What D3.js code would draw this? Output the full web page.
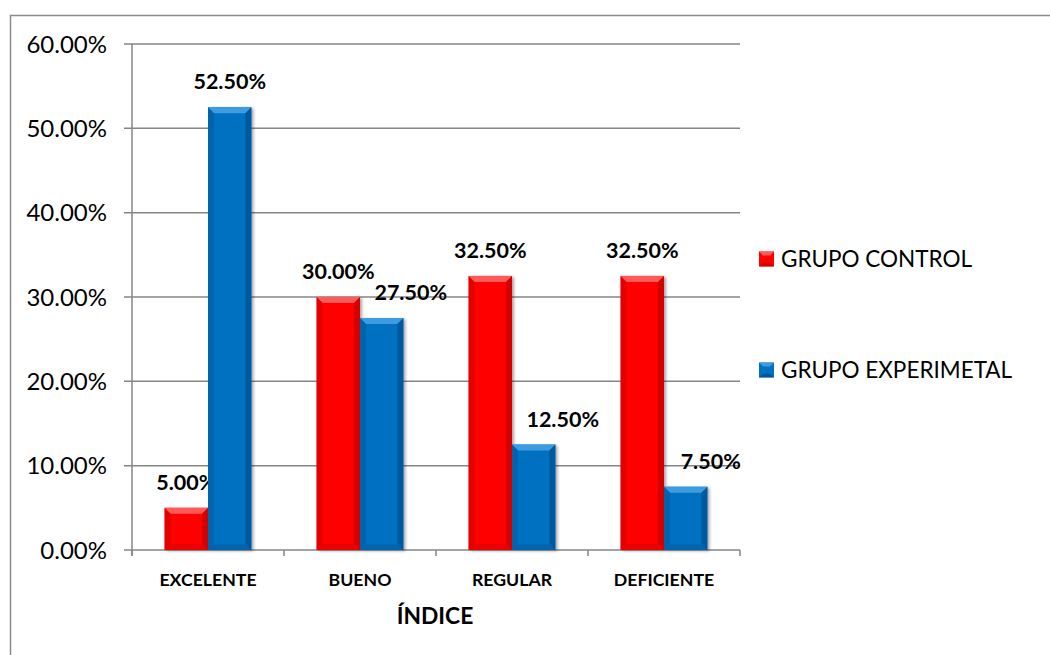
<!DOCTYPE html>
<html><head><meta charset="utf-8">
<script src="https://cdn.jsdelivr.net/npm/d3@7"></script>
<style>body{margin:0;background:#fff}svg{display:block}</style>
</head><body>
<script>
const categories = ["EXCELENTE","BUENO","REGULAR","DEFICIENTE"];
const series = ["GRUPO CONTROL","GRUPO EXPERIMETAL"];
const control = [5.0, 30.0, 32.5, 32.5];
const experimental = [52.5, 27.5, 12.5, 7.5];
const yTicks = [0,10,20,30,40,50,60];
const xTitle = "ÍNDICE";

const W=1050,H=655;
const svg=d3.select("body").append("svg").attr("width",W).attr("height",H);
const font="Lato, 'Open Sans', sans-serif";
const colors=["#FF0000","#0070C0"];
const light=["#FF5a5a","#3D9BE0"];
const dark=["#D40000","#005A9E"];
const darker=["#B80000","#004A86"];

const defs=svg.append("defs");
const f=defs.append("filter").attr("id","sh").attr("x","-20%").attr("y","-20%").attr("width","150%").attr("height","150%");
f.append("feDropShadow").attr("dx",2).attr("dy",1).attr("stdDeviation",1.5).attr("flood-color","#000").attr("flood-opacity",0.35);

// outer border
svg.append("rect").attr("x",10.5).attr("y",15.5).attr("width",1100).attr("height",700)
  .attr("fill","none").attr("stroke","#8c8c8c").attr("stroke-width",1.5);

const x0=d3.scaleBand().domain(categories).range([132,740]);
const x1=d3.scaleBand().domain(series).range([0,x0.bandwidth()]).paddingInner(0).paddingOuter(0.75);
const y=d3.scaleLinear().domain([0,60]).range([550,44]);

const gridCol="#868686";
svg.append("g").selectAll("line").data(yTicks).join("line")
  .attr("x1",124).attr("x2",740).attr("y1",d=>y(d)).attr("y2",d=>y(d))
  .attr("stroke",gridCol).attr("stroke-width",1.5);
svg.append("line").attr("x1",132).attr("x2",132).attr("y1",44).attr("y2",556).attr("stroke",gridCol).attr("stroke-width",1.5);
const bounds=categories.map(c=>x0(c)).concat([740]);
svg.append("g").selectAll("line").data(bounds).join("line")
  .attr("x1",d=>d).attr("x2",d=>d).attr("y1",550).attr("y2",556).attr("stroke",gridCol).attr("stroke-width",1.5);

svg.append("g").selectAll("text").data(yTicks).join("text")
  .attr("x",107).attr("y",d=>y(d)).attr("dy","0.36em").attr("text-anchor","end")
  .attr("font-family",font).attr("font-size",24).attr("fill","#000")
  .text(d=>d3.format(".2f")(d)+"%");

const data=[];
categories.forEach((c,i)=>{
  data.push({c,s:0,v:control[i],i});
  data.push({c,s:1,v:experimental[i],i});
});
const bv=6;
const bars=svg.append("g").selectAll("g").data(data).join("g")
  .attr("transform",d=>`translate(${x0(d.c)+x1(series[d.s])},0)`);
const bw=x1.bandwidth();
bars.append("rect").attr("x",0).attr("y",d=>y(d.v)).attr("width",bw).attr("height",d=>550-y(d.v))
  .attr("fill",d=>colors[d.s]).attr("filter","url(#sh)");
bars.append("path").attr("fill",d=>light[d.s]).attr("d",d=>{const t=y(d.v);return `M0,${t}L${bw},${t}L${bw-bv},${t+bv}L${bv},${t+bv}Z`;});
bars.append("path").attr("fill",d=>dark[d.s]).attr("opacity",0.6).attr("d",d=>{const t=y(d.v);return `M0,${t}L${bv},${t+bv}L${bv},${550-bv}L0,550Z`;});
bars.append("path").attr("fill",d=>darker[d.s]).attr("opacity",0.6).attr("d",d=>{const t=y(d.v);return `M${bw},${t}L${bw-bv},${t+bv}L${bw-bv},${550-bv}L${bw},550Z`;});
bars.append("path").attr("fill",d=>dark[d.s]).attr("opacity",0.5).attr("d",d=>{const t=y(d.v);return `M0,550L${bv},${550-bv}L${bw-bv},${550-bv}L${bw},550Z`;});

const labelShift=[[0,0,0,0],[0,29,29,25]];
bars.append("text").attr("x",d=>bw/2+labelShift[d.s][d.i]).attr("y",d=>y(d.v)-18)
  .attr("text-anchor","middle").attr("font-family",font).attr("font-weight","bold").attr("font-size",21.5)
  .text(d=>d3.format(".2f")(d.v)+"%");

svg.append("g").selectAll("text").data(categories).join("text")
  .attr("x",d=>x0(d)+x0.bandwidth()/2).attr("y",586).attr("text-anchor","middle")
  .attr("font-family",font).attr("font-weight","bold").attr("font-size",17.7).text(d=>d);
svg.append("text").attr("x",435).attr("y",624).attr("text-anchor","middle")
  .attr("font-family",font).attr("font-weight","bold").attr("font-size",22.8).text(xTitle);

const lg=svg.append("g").selectAll("g").data(series).join("g")
  .attr("transform",(d,i)=>`translate(759,${259+i*111})`);
lg.append("rect").attr("x",0).attr("y",-7.5).attr("width",15).attr("height",15).attr("fill",(d,i)=>colors[i]);
lg.append("path").attr("fill",(d,i)=>light[i]).attr("d","M0,-7.5L15,-7.5L11,-3.5L4,-3.5Z");
lg.append("path").attr("fill",(d,i)=>darker[i]).attr("opacity",0.6).attr("d","M0,7.5L4,3.5L11,3.5L15,7.5Z");
lg.append("text").attr("x",22).attr("y",0).attr("dy","0.36em").attr("font-family",font).attr("font-size",22.5).text(d=>d);
</script>
</body></html>
